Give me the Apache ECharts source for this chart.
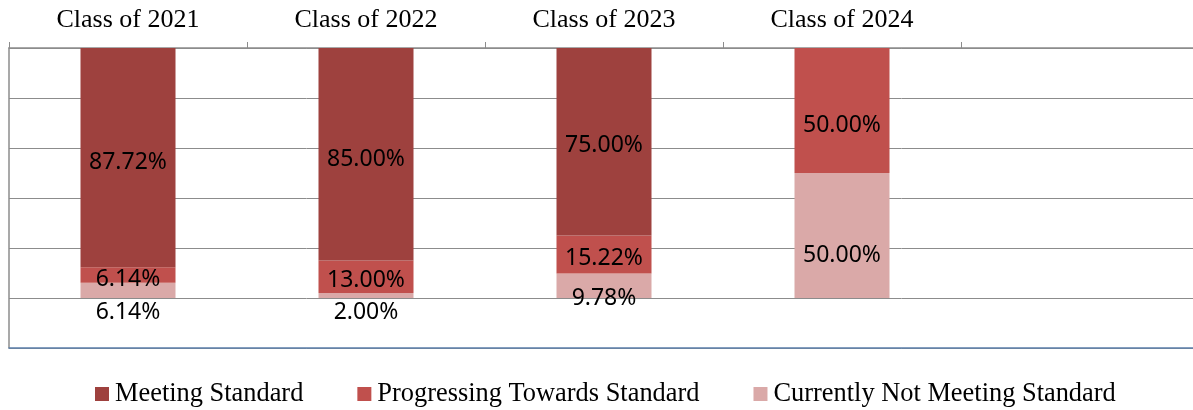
<!DOCTYPE html>
<html>
<head>
<meta charset="utf-8">
<script src="https://cdn.jsdelivr.net/npm/echarts@6/dist/echarts.min.js"></script>
<style>
html,body{margin:0;padding:0;background:#fff;overflow:hidden;width:1193px;height:410px;}
#chart{width:1200px;height:410px;}
</style>
</head>
<body>
<div id="chart"></div>
<script>
// ---- data ----
const categories = ['Class of 2021', 'Class of 2022', 'Class of 2023', 'Class of 2024', ''];
const seriesNames = ['Meeting Standard', 'Progressing Towards Standard', 'Currently Not Meeting Standard'];
const meetingStandard = [87.72, 85.00, 75.00, null];
const progressingStandard = [6.14, 13.00, 15.22, 50.00];
const notMeetingStandard = [6.14, 2.00, 9.78, 50.00];
const yTicks = [-20, 0, 20, 40, 60, 80, 100];

// ---- label nudges (pixels, as placed in the original) ----
const meetingLabelDy = [5, 5, 4, 0];
const progressingLabelDy = [4, 4, 4, 15];
const notMeetingLabelDy = [22, 17, 13, 20];

const colors = {
  meeting: '#9E413E',
  progressing: '#C0504D',
  notMeeting: '#DAA9A8'
};

const labelFont = '"Noto Sans", "Open Sans", sans-serif';
const serifFont = '"Liberation Serif", "Times New Roman", serif';

function buildData(values, dys) {
  return values.map((v, i) => ({
    value: v,
    label: { offset: [0, dys[i] || 0] }
  }));
}

function makeSeries(name, values, dys, color) {
  return {
    name: name,
    type: 'bar',
    stack: 'total',
    barWidth: 95,
    data: buildData(values, dys),
    itemStyle: { color: color },
    label: {
      show: true,
      position: 'inside',
      color: '#000',
      fontFamily: labelFont,
      fontSize: 23,
      formatter: p => (p.value == null ? '' : Number(p.value).toFixed(2) + '%')
    },
    emphasis: { disabled: true },
    animation: false
  };
}

const chart = echarts.init(document.getElementById('chart'), null, { renderer: 'canvas' });

chart.setOption({
  backgroundColor: '#ffffff',
  animation: false,
  grid: { left: 9, top: 48, width: 1190, height: 300, containLabel: false },
  legend: {
    data: seriesNames,
    left: 95,
    top: 381,
    padding: 0,
    itemGap: 54,
    itemWidth: 14,
    itemHeight: 14,
    icon: 'rect',
    textStyle: { fontFamily: serifFont, fontSize: 26.4, color: '#000', padding: [0, 0, 0, 1] }
  },
  xAxis: [
    {
      type: 'category',
      data: categories,
      position: 'top',
      axisLine: { show: true, onZero: false, lineStyle: { color: '#8c8c8c', width: 1.5 } },
      axisTick: { show: true, alignWithLabel: false, length: 6, lineStyle: { color: '#8c8c8c', width: 1 } },
      axisLabel: { show: true, color: '#000', fontFamily: serifFont, fontSize: 26, margin: 15, interval: 0 },
      splitLine: { show: false }
    },
    {
      type: 'category',
      data: categories,
      position: 'bottom',
      axisLine: { show: true, onZero: false, lineStyle: { color: '#5b7fab', width: 1.5 } },
      axisTick: { show: false },
      axisLabel: { show: false },
      splitLine: { show: false }
    }
  ],
  yAxis: {
    type: 'value',
    min: yTicks[0],
    max: yTicks[yTicks.length - 1],
    interval: yTicks[1] - yTicks[0],
    axisLine: { show: true, lineStyle: { color: '#8c8c8c', width: 1.5 } },
    axisTick: { show: false },
    axisLabel: { show: false },
    splitLine: { show: true, lineStyle: { color: '#8c8c8c', width: 1 } }
  },
  series: [
    makeSeries(seriesNames[2], notMeetingStandard, notMeetingLabelDy, colors.notMeeting),
    makeSeries(seriesNames[1], progressingStandard, progressingLabelDy, colors.progressing),
    makeSeries(seriesNames[0], meetingStandard, meetingLabelDy, colors.meeting)
  ]
});
</script>
</body>
</html>
